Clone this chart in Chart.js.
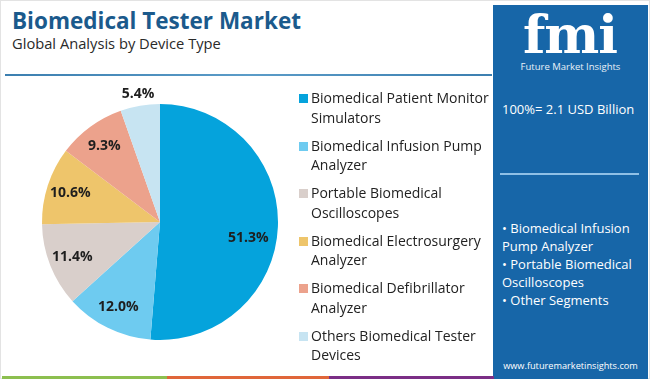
<!DOCTYPE html>
<html>
<head>
<meta charset="utf-8">
<script src="https://cdn.jsdelivr.net/npm/chart.js@4.4.0/dist/chart.umd.min.js"></script>
<style>
  html, body { margin:0; padding:0; width:650px; height:379px; overflow:hidden; background:#fff; font-family:"Open Sans", sans-serif; }
  #frame { position:absolute; left:0; top:0; width:648px; height:377px; border:1px solid #e3e3e3; }
  #title { position:absolute; left:12px; top:5px; font-size:22.5px; font-weight:700; color:#1b5a8c; white-space:nowrap; }
  #subtitle { position:absolute; left:12px; top:33px; font-size:14.7px; color:#2a2a2a; white-space:nowrap; }
  #rule { position:absolute; left:5px; top:74px; width:487px; height:2px; background:linear-gradient(90deg,#3c7fb0,#5b9cc8,#3c7fb0); }
  #chartBox { position:absolute; left:22px; top:84px; width:276px; height:276px; }
  #legend { position:absolute; left:297px; top:88px; width:195px; }
  .li { position:relative; padding-left:14px; font-size:14px; line-height:19.5px; color:#222; margin-bottom:8.5px; white-space:nowrap; }
  .sw { position:absolute; left:2px; top:6px; width:9px; height:9px; }
  #panel { position:absolute; left:493px; top:5px; width:155px; height:374px; background:#1766a8; color:#fff; }
  #logo { position:absolute; left:22px; top:2px; width:110px; text-align:center; font-family:"DejaVu Serif", serif; font-weight:700; font-size:52px; line-height:56px; color:#fff; letter-spacing:-1px; }
  #logoSub { position:absolute; left:0; top:55px; width:155px; text-align:center; font-size:9.5px; color:#e8f1f8; }
  #total { position:absolute; left:9px; top:95px; font-size:13px; white-space:nowrap; }
  #prule { position:absolute; left:7px; top:168px; width:139px; height:2px; background:#8fc0e6; }
  #bul { position:absolute; left:9px; top:214px; font-size:13px; line-height:18px; white-space:nowrap; }
  #web { position:absolute; left:0; top:354px; width:155px; text-align:center; font-size:9.2px; }
  .stripe { position:absolute; top:376px; height:3px; }
</style>
</head>
<body>
<div id="frame"></div>
<div id="title">Biomedical Tester Market</div>
<div id="subtitle">Global Analysis by Device Type</div>
<div id="rule"></div>
<div id="chartBox"><canvas id="c"></canvas></div>
<div id="legend"></div>
<div id="panel">
  <div id="logo">fmi</div>
  <div id="logoSub">Future Market Insights</div>
  <div id="total"></div>
  <div id="prule"></div>
  <div id="bul"></div>
  <div id="web">www.futuremarketinsights.com</div>
</div>
<div class="stripe" style="left:2px;width:165px;background:#8cbf4f"></div>
<div class="stripe" style="left:167px;width:162px;background:#e0663a"></div>
<div class="stripe" style="left:329px;width:165px;background:#7b2f86"></div>
<script>
const categories = [
  ["Biomedical Patient Monitor", "Simulators"],
  ["Biomedical Infusion Pump", "Analyzer"],
  ["Portable Biomedical", "Oscilloscopes"],
  ["Biomedical Electrosurgery", "Analyzer"],
  ["Biomedical Defibrillator", "Analyzer"],
  ["Others Biomedical Tester", "Devices"]
];
const shares = [51.3, 12.0, 11.4, 10.6, 9.3, 5.4];
const colors = ["#05a3dc", "#6ecbf0", "#d9cfcb", "#eec56b", "#eca28c", "#c7e4f2"];
const totalText = "100%= 2.1 USD Billion";
const panelBullets = ["• Biomedical Infusion", "Pump Analyzer", "• Portable Biomedical", "Oscilloscopes", "• Other Segments"];

document.getElementById('total').textContent = totalText;
document.getElementById('bul').innerHTML = panelBullets.join('<br>');

const labelPlugin = {
  id: 'sliceLabels',
  afterDatasetsDraw(chart) {
    const ctx = chart.ctx;
    const meta = chart.getDatasetMeta(0);
    ctx.save();
    ctx.font = '700 14px "Open Sans", sans-serif';
    ctx.fillStyle = '#1e1e1e';
    ctx.textAlign = 'center';
    ctx.textBaseline = 'middle';
    meta.data.forEach((arc, i) => {
      const v = chart.data.datasets[0].data[i];
      const mid = (arc.startAngle + arc.endAngle) / 2;
      const outer = arc.outerRadius;
      let r = v < 7 ? outer * 1.1 : outer * 0.8;
      let ang = mid;
      if (i === 0) { ang = mid + 0.14; r = outer * 0.76; }
      const x = arc.x + Math.cos(ang) * r;
      const y = arc.y + Math.sin(ang) * r;
      ctx.fillText(v.toFixed(1) + '%', x, y);
    });
    ctx.restore();
  }
};

const chart = new Chart(document.getElementById('c'), {
  type: 'pie',
  data: {
    labels: categories,
    datasets: [{ data: shares, backgroundColor: colors, borderWidth: 0 }]
  },
  options: {
    responsive: true,
    maintainAspectRatio: false,
    animation: false,
    layout: { padding: 20 },
    plugins: { legend: { display: false }, tooltip: { enabled: false } }
  },
  plugins: [labelPlugin]
});

const items = chart.options.plugins.legend.labels.generateLabels(chart);
document.getElementById('legend').innerHTML = items.map(it => {
  const txt = Array.isArray(it.text) ? it.text.join('<br>') : it.text;
  return '<div class="li"><span class="sw" style="background:' + it.fillStyle + '"></span>' + txt + '</div>';
}).join('');
</script>
</body>
</html>
